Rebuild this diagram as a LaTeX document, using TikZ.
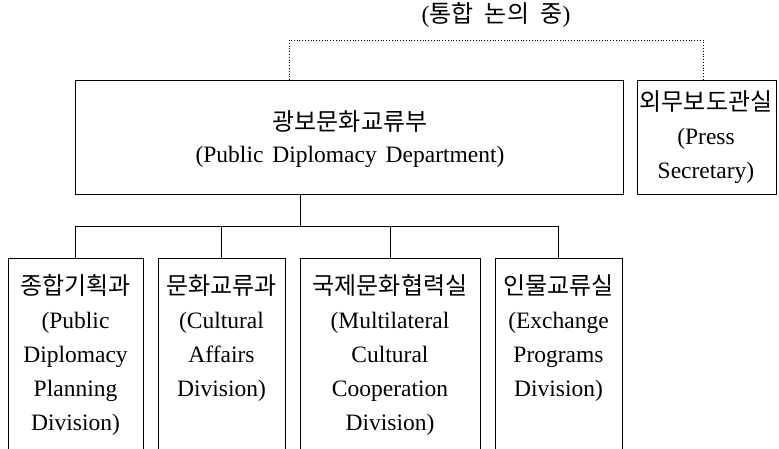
\documentclass[tikz,border=0pt]{standalone}
\usepackage{fontspec}
\setmainfont{Liberation Serif}
\newfontfamily\kr{Noto Sans CJK KR}
\newcommand\krt[1]{{\kr\fontsize{24}{34}\selectfont #1}}
\begin{document}
\begin{tikzpicture}[x=1pt,y=-1pt,
  box/.style={draw, line width=0.8pt, rectangle, inner sep=0pt, outer sep=0pt, anchor=north west},
  txt/.style={inner sep=0pt, align=center, font=\fontsize{23.5}{34}\selectfont},
  conn/.style={line width=0.8pt},
  dots/.style={line width=0.8pt, dotted}]
\clip (0,0) rectangle (779,448);
\fill[white] (0,0) rectangle (779,448);
% boxes
\node[box, minimum width=548pt, minimum height=114pt] (main) at (75,80) {};
\node[box, minimum width=139pt, minimum height=114pt] (press) at (637,80) {};
\node[box, minimum width=135pt, minimum height=220pt] (c1) at (8,258) {};
\node[box, minimum width=127pt, minimum height=220pt] (c2) at (158,258) {};
\node[box, minimum width=180pt, minimum height=220pt] (c3) at (300,258) {};
\node[box, minimum width=127pt, minimum height=220pt] (c4) at (495,258) {};
% texts
\node[txt] (title) at (496,15) {(\krt{통합\hspace{6pt} 논의\hspace{6pt} 중})};
\node[txt, font=\fontsize{23.5}{32}\selectfont, anchor=north] (maintxt) at (350,110) {\krt{광보문화교류부}\\(Public\hspace{3pt} Diplomacy\hspace{3pt} Department)};
\node[txt, anchor=north] (presstxt) at (706,90) {\krt{외무보도관실}\\(Press\\Secretary)};
\node[txt, anchor=north] (t1) at (75.5,274) {\krt{종합기획과}\\(Public\\Diplomacy\\Planning\\Division)};
\node[txt, anchor=north] (t2) at (221.5,274) {\krt{문화교류과}\\(Cultural\\Affairs\\Division)};
\node[txt, anchor=north] (t3) at (390,274) {\krt{국제문화협력실}\\(Multilateral\\Cultural\\Cooperation\\Division)};
\node[txt, anchor=north] (t4) at (558.5,274) {\krt{인물교류실}\\(Exchange\\Programs\\Division)};
% connectors
\coordinate (j) at (300,226);
\draw[conn] (main.south -| j) -- (j);
\draw[conn] (c1.north) -- (c1.north |- j) -- (c4.north |- j) -- (c4.north);
\draw[conn] (c2.north) -- (c2.north |- j);
\draw[conn] (c3.north) -- (c3.north |- j);
\coordinate (d1) at (289,40);
\coordinate (d2) at (703,40);
\draw[dots] (main.north -| d1) -- (d1) -- (d2) -- (press.north -| d2);
\end{tikzpicture}
\end{document}
